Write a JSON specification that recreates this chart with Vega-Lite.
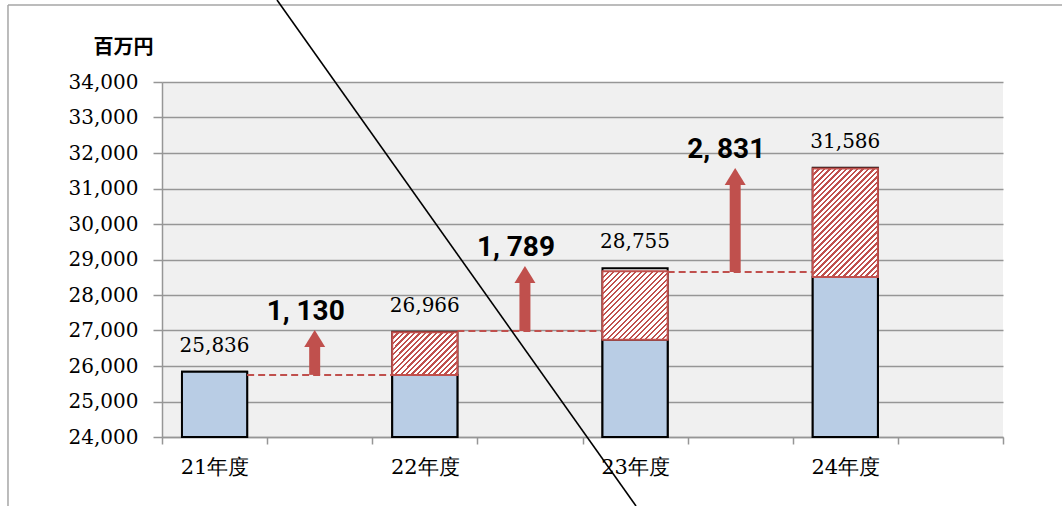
{
  "$schema": "https://vega.github.io/schema/vega-lite/v6.json",
  "width": 841,
  "height": 355,
  "autosize": {"type": "none"},
  "padding": {"left": 162, "top": 82, "right": 59, "bottom": 69},
  "background": "white",
  "config": {"view": {"fill": "#f0f0f0", "stroke": null}, "font": "DejaVu Serif"},
  "datasets": {
    "bars": [
      {"year": "21年度", "blue": 25836, "total": 25836},
      {"year": "22年度", "blue": 25750, "hatch": 26950, "total": 26966},
      {"year": "23年度", "blue": 26740, "hatch": 28670, "total": 28755},
      {"year": "24年度", "blue": 28510, "hatch": 31560, "total": 31586}
    ],
    "steps": [
      {"gap": "g1", "from": "21年度", "to": "22年度", "base": 25750, "tip": 27014, "label": "1, 130"},
      {"gap": "g2", "from": "22年度", "to": "23年度", "base": 26985, "tip": 28820, "label": "1, 789"},
      {"gap": "g3", "from": "23年度", "to": "24年度", "base": 28650, "tip": 31577, "label": "2, 831"}
    ],
    "edges": [
      {"anchor": "21年度", "top": 36169, "bottom": 19000, "strikeTop": 36310, "strikeBottom": 22056}
    ]
  },
  "encoding": {
    "x": {"field": "year", "type": "nominal",
      "scale": {"domain": ["21年度", "g1", "22年度", "g2", "23年度", "g3", "24年度", "g4"], "paddingInner": 0, "paddingOuter": 0},
      "axis": {"title": null, "tickBand": "extent", "labelExpr": "indexof(datum.label + '', 'g') == 0 ? '' : datum.label", "labelAngle": 0,
        "labelFont": "DejaVu Serif", "labelFontSize": 21, "labelColor": "black", "labelPadding": 12,
        "tickSize": 7, "tickColor": "#969696", "tickWidth": 1.5, "domainColor": "#969696", "domainWidth": 1.5, "grid": false}},
    "y": {"field": "total", "type": "quantitative",
      "scale": {"domain": [24000, 34000], "zero": false, "nice": false},
      "axis": {"title": "百万円", "titleAngle": 0, "titleX": -39, "titleY": -35, "titleAlign": "center", "titleBaseline": "middle",
        "titleFont": "Noto Sans CJK JP", "titleFontSize": 20, "titleFontWeight": "bold", "titleColor": "black",
        "values": [24000, 25000, 26000, 27000, 28000, 29000, 30000, 31000, 32000, 33000, 34000],
        "labelExpr": "format(datum.value, ',')",
        "labelFont": "DejaVu Serif", "labelFontSize": 20, "labelColor": "black", "labelPadding": 15,
        "tickSize": 9, "tickColor": "#969696", "tickWidth": 1.5, "domainColor": "#969696", "domainWidth": 1.5,
        "grid": true, "gridColor": "#969696", "gridWidth": 1.5}}
  },
  "layer": [
        {
          "data": {"name": "bars"},
          "mark": {"type": "bar", "width": {"band": 0.62}, "fillOpacity": 0, "stroke": "black", "strokeWidth": 2},
          "encoding": {
            "y2": {"datum": 24000}
          }
        },
        {
          "data": {"name": "bars"},
          "mark": {"type": "bar", "width": {"band": 0.62}, "fill": "#b9cde5", "stroke": "black", "strokeWidth": 2},
          "encoding": {
            "y": {"field": "blue", "type": "quantitative"},
            "y2": {"datum": 24000}
          }
        },
        {
          "data": {"name": "bars"},
          "transform": [{"filter": "datum.year == '22年度'"}],
          "mark": {"type": "bar", "width": {"band": 0.62}, "stroke": "#c0504d", "strokeWidth": 2,
            "fill": {"gradient": "linear", "x1": 0, "y1": 0, "x2": 1.892, "y2": 1.236, "stops": [
{"offset":0,"color":"#c0504d"},{"offset":0.0125,"color":"#c0504d"},{"offset":0.0125,"color":"white"},{"offset":0.03125,"color":"white"},
{"offset":0.03125,"color":"#c0504d"},{"offset":0.04375,"color":"#c0504d"},{"offset":0.04375,"color":"white"},{"offset":0.0625,"color":"white"},
{"offset":0.0625,"color":"#c0504d"},{"offset":0.075,"color":"#c0504d"},{"offset":0.075,"color":"white"},{"offset":0.09375,"color":"white"},
{"offset":0.09375,"color":"#c0504d"},{"offset":0.10625,"color":"#c0504d"},{"offset":0.10625,"color":"white"},{"offset":0.125,"color":"white"},
{"offset":0.125,"color":"#c0504d"},{"offset":0.1375,"color":"#c0504d"},{"offset":0.1375,"color":"white"},{"offset":0.15625,"color":"white"},
{"offset":0.15625,"color":"#c0504d"},{"offset":0.16875,"color":"#c0504d"},{"offset":0.16875,"color":"white"},{"offset":0.1875,"color":"white"},
{"offset":0.1875,"color":"#c0504d"},{"offset":0.2,"color":"#c0504d"},{"offset":0.2,"color":"white"},{"offset":0.21875,"color":"white"},
{"offset":0.21875,"color":"#c0504d"},{"offset":0.23125,"color":"#c0504d"},{"offset":0.23125,"color":"white"},{"offset":0.25,"color":"white"},
{"offset":0.25,"color":"#c0504d"},{"offset":0.2625,"color":"#c0504d"},{"offset":0.2625,"color":"white"},{"offset":0.28125,"color":"white"},
{"offset":0.28125,"color":"#c0504d"},{"offset":0.29375,"color":"#c0504d"},{"offset":0.29375,"color":"white"},{"offset":0.3125,"color":"white"},
{"offset":0.3125,"color":"#c0504d"},{"offset":0.325,"color":"#c0504d"},{"offset":0.325,"color":"white"},{"offset":0.34375,"color":"white"},
{"offset":0.34375,"color":"#c0504d"},{"offset":0.35625,"color":"#c0504d"},{"offset":0.35625,"color":"white"},{"offset":0.375,"color":"white"},
{"offset":0.375,"color":"#c0504d"},{"offset":0.3875,"color":"#c0504d"},{"offset":0.3875,"color":"white"},{"offset":0.40625,"color":"white"},
{"offset":0.40625,"color":"#c0504d"},{"offset":0.41875,"color":"#c0504d"},{"offset":0.41875,"color":"white"},{"offset":0.4375,"color":"white"},
{"offset":0.4375,"color":"#c0504d"},{"offset":0.45,"color":"#c0504d"},{"offset":0.45,"color":"white"},{"offset":0.46875,"color":"white"},
{"offset":0.46875,"color":"#c0504d"},{"offset":0.48125,"color":"#c0504d"},{"offset":0.48125,"color":"white"},{"offset":0.5,"color":"white"},
{"offset":0.5,"color":"#c0504d"},{"offset":0.5125,"color":"#c0504d"},{"offset":0.5125,"color":"white"},{"offset":0.53125,"color":"white"},
{"offset":0.53125,"color":"#c0504d"},{"offset":0.54375,"color":"#c0504d"},{"offset":0.54375,"color":"white"},{"offset":0.5625,"color":"white"},
{"offset":0.5625,"color":"#c0504d"},{"offset":0.575,"color":"#c0504d"},{"offset":0.575,"color":"white"},{"offset":0.59375,"color":"white"},
{"offset":0.59375,"color":"#c0504d"},{"offset":0.60625,"color":"#c0504d"},{"offset":0.60625,"color":"white"},{"offset":0.625,"color":"white"},
{"offset":0.625,"color":"#c0504d"},{"offset":0.6375,"color":"#c0504d"},{"offset":0.6375,"color":"white"},{"offset":0.65625,"color":"white"},
{"offset":0.65625,"color":"#c0504d"},{"offset":0.66875,"color":"#c0504d"},{"offset":0.66875,"color":"white"},{"offset":0.6875,"color":"white"},
{"offset":0.6875,"color":"#c0504d"},{"offset":0.7,"color":"#c0504d"},{"offset":0.7,"color":"white"},{"offset":0.71875,"color":"white"},
{"offset":0.71875,"color":"#c0504d"},{"offset":0.73125,"color":"#c0504d"},{"offset":0.73125,"color":"white"},{"offset":0.75,"color":"white"},
{"offset":0.75,"color":"#c0504d"},{"offset":0.7625,"color":"#c0504d"},{"offset":0.7625,"color":"white"},{"offset":0.78125,"color":"white"},
{"offset":0.78125,"color":"#c0504d"},{"offset":0.79375,"color":"#c0504d"},{"offset":0.79375,"color":"white"},{"offset":0.8125,"color":"white"},
{"offset":0.8125,"color":"#c0504d"},{"offset":0.825,"color":"#c0504d"},{"offset":0.825,"color":"white"},{"offset":0.84375,"color":"white"},
{"offset":0.84375,"color":"#c0504d"},{"offset":0.85625,"color":"#c0504d"},{"offset":0.85625,"color":"white"},{"offset":0.875,"color":"white"},
{"offset":0.875,"color":"#c0504d"},{"offset":0.8875,"color":"#c0504d"},{"offset":0.8875,"color":"white"},{"offset":0.90625,"color":"white"},
{"offset":0.90625,"color":"#c0504d"},{"offset":0.91875,"color":"#c0504d"},{"offset":0.91875,"color":"white"},{"offset":0.9375,"color":"white"},
{"offset":0.9375,"color":"#c0504d"},{"offset":0.95,"color":"#c0504d"},{"offset":0.95,"color":"white"},{"offset":0.96875,"color":"white"},
{"offset":0.96875,"color":"#c0504d"},{"offset":0.98125,"color":"#c0504d"},{"offset":0.98125,"color":"white"},{"offset":1,"color":"white"}
            ]}},
          "encoding": {
            "y": {"field": "blue", "type": "quantitative"},
            "y2": {"field": "hatch"}
          }
        },
        {
          "data": {"name": "bars"},
          "transform": [{"filter": "datum.year == '23年度'"}],
          "mark": {"type": "bar", "width": {"band": 0.62}, "stroke": "#c0504d", "strokeWidth": 2,
            "fill": {"gradient": "linear", "x1": 0, "y1": 0, "x2": 1.283, "y2": 1.348, "stops": [
{"offset":0,"color":"#c0504d"},{"offset":0.0125,"color":"#c0504d"},{"offset":0.0125,"color":"white"},{"offset":0.03125,"color":"white"},
{"offset":0.03125,"color":"#c0504d"},{"offset":0.04375,"color":"#c0504d"},{"offset":0.04375,"color":"white"},{"offset":0.0625,"color":"white"},
{"offset":0.0625,"color":"#c0504d"},{"offset":0.075,"color":"#c0504d"},{"offset":0.075,"color":"white"},{"offset":0.09375,"color":"white"},
{"offset":0.09375,"color":"#c0504d"},{"offset":0.10625,"color":"#c0504d"},{"offset":0.10625,"color":"white"},{"offset":0.125,"color":"white"},
{"offset":0.125,"color":"#c0504d"},{"offset":0.1375,"color":"#c0504d"},{"offset":0.1375,"color":"white"},{"offset":0.15625,"color":"white"},
{"offset":0.15625,"color":"#c0504d"},{"offset":0.16875,"color":"#c0504d"},{"offset":0.16875,"color":"white"},{"offset":0.1875,"color":"white"},
{"offset":0.1875,"color":"#c0504d"},{"offset":0.2,"color":"#c0504d"},{"offset":0.2,"color":"white"},{"offset":0.21875,"color":"white"},
{"offset":0.21875,"color":"#c0504d"},{"offset":0.23125,"color":"#c0504d"},{"offset":0.23125,"color":"white"},{"offset":0.25,"color":"white"},
{"offset":0.25,"color":"#c0504d"},{"offset":0.2625,"color":"#c0504d"},{"offset":0.2625,"color":"white"},{"offset":0.28125,"color":"white"},
{"offset":0.28125,"color":"#c0504d"},{"offset":0.29375,"color":"#c0504d"},{"offset":0.29375,"color":"white"},{"offset":0.3125,"color":"white"},
{"offset":0.3125,"color":"#c0504d"},{"offset":0.325,"color":"#c0504d"},{"offset":0.325,"color":"white"},{"offset":0.34375,"color":"white"},
{"offset":0.34375,"color":"#c0504d"},{"offset":0.35625,"color":"#c0504d"},{"offset":0.35625,"color":"white"},{"offset":0.375,"color":"white"},
{"offset":0.375,"color":"#c0504d"},{"offset":0.3875,"color":"#c0504d"},{"offset":0.3875,"color":"white"},{"offset":0.40625,"color":"white"},
{"offset":0.40625,"color":"#c0504d"},{"offset":0.41875,"color":"#c0504d"},{"offset":0.41875,"color":"white"},{"offset":0.4375,"color":"white"},
{"offset":0.4375,"color":"#c0504d"},{"offset":0.45,"color":"#c0504d"},{"offset":0.45,"color":"white"},{"offset":0.46875,"color":"white"},
{"offset":0.46875,"color":"#c0504d"},{"offset":0.48125,"color":"#c0504d"},{"offset":0.48125,"color":"white"},{"offset":0.5,"color":"white"},
{"offset":0.5,"color":"#c0504d"},{"offset":0.5125,"color":"#c0504d"},{"offset":0.5125,"color":"white"},{"offset":0.53125,"color":"white"},
{"offset":0.53125,"color":"#c0504d"},{"offset":0.54375,"color":"#c0504d"},{"offset":0.54375,"color":"white"},{"offset":0.5625,"color":"white"},
{"offset":0.5625,"color":"#c0504d"},{"offset":0.575,"color":"#c0504d"},{"offset":0.575,"color":"white"},{"offset":0.59375,"color":"white"},
{"offset":0.59375,"color":"#c0504d"},{"offset":0.60625,"color":"#c0504d"},{"offset":0.60625,"color":"white"},{"offset":0.625,"color":"white"},
{"offset":0.625,"color":"#c0504d"},{"offset":0.6375,"color":"#c0504d"},{"offset":0.6375,"color":"white"},{"offset":0.65625,"color":"white"},
{"offset":0.65625,"color":"#c0504d"},{"offset":0.66875,"color":"#c0504d"},{"offset":0.66875,"color":"white"},{"offset":0.6875,"color":"white"},
{"offset":0.6875,"color":"#c0504d"},{"offset":0.7,"color":"#c0504d"},{"offset":0.7,"color":"white"},{"offset":0.71875,"color":"white"},
{"offset":0.71875,"color":"#c0504d"},{"offset":0.73125,"color":"#c0504d"},{"offset":0.73125,"color":"white"},{"offset":0.75,"color":"white"},
{"offset":0.75,"color":"#c0504d"},{"offset":0.7625,"color":"#c0504d"},{"offset":0.7625,"color":"white"},{"offset":0.78125,"color":"white"},
{"offset":0.78125,"color":"#c0504d"},{"offset":0.79375,"color":"#c0504d"},{"offset":0.79375,"color":"white"},{"offset":0.8125,"color":"white"},
{"offset":0.8125,"color":"#c0504d"},{"offset":0.825,"color":"#c0504d"},{"offset":0.825,"color":"white"},{"offset":0.84375,"color":"white"},
{"offset":0.84375,"color":"#c0504d"},{"offset":0.85625,"color":"#c0504d"},{"offset":0.85625,"color":"white"},{"offset":0.875,"color":"white"},
{"offset":0.875,"color":"#c0504d"},{"offset":0.8875,"color":"#c0504d"},{"offset":0.8875,"color":"white"},{"offset":0.90625,"color":"white"},
{"offset":0.90625,"color":"#c0504d"},{"offset":0.91875,"color":"#c0504d"},{"offset":0.91875,"color":"white"},{"offset":0.9375,"color":"white"},
{"offset":0.9375,"color":"#c0504d"},{"offset":0.95,"color":"#c0504d"},{"offset":0.95,"color":"white"},{"offset":0.96875,"color":"white"},
{"offset":0.96875,"color":"#c0504d"},{"offset":0.98125,"color":"#c0504d"},{"offset":0.98125,"color":"white"},{"offset":1,"color":"white"}
            ]}},
          "encoding": {
            "y": {"field": "blue", "type": "quantitative"},
            "y2": {"field": "hatch"}
          }
        },
        {
          "data": {"name": "bars"},
          "transform": [{"filter": "datum.year == '24年度'"}],
          "mark": {"type": "bar", "width": {"band": 0.62}, "stroke": "#c0504d", "strokeWidth": 2,
            "fill": {"gradient": "linear", "x1": 0, "y1": 0, "x2": 0.718, "y2": 1.193, "stops": [
{"offset":0,"color":"#c0504d"},{"offset":0.0125,"color":"#c0504d"},{"offset":0.0125,"color":"white"},{"offset":0.03125,"color":"white"},
{"offset":0.03125,"color":"#c0504d"},{"offset":0.04375,"color":"#c0504d"},{"offset":0.04375,"color":"white"},{"offset":0.0625,"color":"white"},
{"offset":0.0625,"color":"#c0504d"},{"offset":0.075,"color":"#c0504d"},{"offset":0.075,"color":"white"},{"offset":0.09375,"color":"white"},
{"offset":0.09375,"color":"#c0504d"},{"offset":0.10625,"color":"#c0504d"},{"offset":0.10625,"color":"white"},{"offset":0.125,"color":"white"},
{"offset":0.125,"color":"#c0504d"},{"offset":0.1375,"color":"#c0504d"},{"offset":0.1375,"color":"white"},{"offset":0.15625,"color":"white"},
{"offset":0.15625,"color":"#c0504d"},{"offset":0.16875,"color":"#c0504d"},{"offset":0.16875,"color":"white"},{"offset":0.1875,"color":"white"},
{"offset":0.1875,"color":"#c0504d"},{"offset":0.2,"color":"#c0504d"},{"offset":0.2,"color":"white"},{"offset":0.21875,"color":"white"},
{"offset":0.21875,"color":"#c0504d"},{"offset":0.23125,"color":"#c0504d"},{"offset":0.23125,"color":"white"},{"offset":0.25,"color":"white"},
{"offset":0.25,"color":"#c0504d"},{"offset":0.2625,"color":"#c0504d"},{"offset":0.2625,"color":"white"},{"offset":0.28125,"color":"white"},
{"offset":0.28125,"color":"#c0504d"},{"offset":0.29375,"color":"#c0504d"},{"offset":0.29375,"color":"white"},{"offset":0.3125,"color":"white"},
{"offset":0.3125,"color":"#c0504d"},{"offset":0.325,"color":"#c0504d"},{"offset":0.325,"color":"white"},{"offset":0.34375,"color":"white"},
{"offset":0.34375,"color":"#c0504d"},{"offset":0.35625,"color":"#c0504d"},{"offset":0.35625,"color":"white"},{"offset":0.375,"color":"white"},
{"offset":0.375,"color":"#c0504d"},{"offset":0.3875,"color":"#c0504d"},{"offset":0.3875,"color":"white"},{"offset":0.40625,"color":"white"},
{"offset":0.40625,"color":"#c0504d"},{"offset":0.41875,"color":"#c0504d"},{"offset":0.41875,"color":"white"},{"offset":0.4375,"color":"white"},
{"offset":0.4375,"color":"#c0504d"},{"offset":0.45,"color":"#c0504d"},{"offset":0.45,"color":"white"},{"offset":0.46875,"color":"white"},
{"offset":0.46875,"color":"#c0504d"},{"offset":0.48125,"color":"#c0504d"},{"offset":0.48125,"color":"white"},{"offset":0.5,"color":"white"},
{"offset":0.5,"color":"#c0504d"},{"offset":0.5125,"color":"#c0504d"},{"offset":0.5125,"color":"white"},{"offset":0.53125,"color":"white"},
{"offset":0.53125,"color":"#c0504d"},{"offset":0.54375,"color":"#c0504d"},{"offset":0.54375,"color":"white"},{"offset":0.5625,"color":"white"},
{"offset":0.5625,"color":"#c0504d"},{"offset":0.575,"color":"#c0504d"},{"offset":0.575,"color":"white"},{"offset":0.59375,"color":"white"},
{"offset":0.59375,"color":"#c0504d"},{"offset":0.60625,"color":"#c0504d"},{"offset":0.60625,"color":"white"},{"offset":0.625,"color":"white"},
{"offset":0.625,"color":"#c0504d"},{"offset":0.6375,"color":"#c0504d"},{"offset":0.6375,"color":"white"},{"offset":0.65625,"color":"white"},
{"offset":0.65625,"color":"#c0504d"},{"offset":0.66875,"color":"#c0504d"},{"offset":0.66875,"color":"white"},{"offset":0.6875,"color":"white"},
{"offset":0.6875,"color":"#c0504d"},{"offset":0.7,"color":"#c0504d"},{"offset":0.7,"color":"white"},{"offset":0.71875,"color":"white"},
{"offset":0.71875,"color":"#c0504d"},{"offset":0.73125,"color":"#c0504d"},{"offset":0.73125,"color":"white"},{"offset":0.75,"color":"white"},
{"offset":0.75,"color":"#c0504d"},{"offset":0.7625,"color":"#c0504d"},{"offset":0.7625,"color":"white"},{"offset":0.78125,"color":"white"},
{"offset":0.78125,"color":"#c0504d"},{"offset":0.79375,"color":"#c0504d"},{"offset":0.79375,"color":"white"},{"offset":0.8125,"color":"white"},
{"offset":0.8125,"color":"#c0504d"},{"offset":0.825,"color":"#c0504d"},{"offset":0.825,"color":"white"},{"offset":0.84375,"color":"white"},
{"offset":0.84375,"color":"#c0504d"},{"offset":0.85625,"color":"#c0504d"},{"offset":0.85625,"color":"white"},{"offset":0.875,"color":"white"},
{"offset":0.875,"color":"#c0504d"},{"offset":0.8875,"color":"#c0504d"},{"offset":0.8875,"color":"white"},{"offset":0.90625,"color":"white"},
{"offset":0.90625,"color":"#c0504d"},{"offset":0.91875,"color":"#c0504d"},{"offset":0.91875,"color":"white"},{"offset":0.9375,"color":"white"},
{"offset":0.9375,"color":"#c0504d"},{"offset":0.95,"color":"#c0504d"},{"offset":0.95,"color":"white"},{"offset":0.96875,"color":"white"},
{"offset":0.96875,"color":"#c0504d"},{"offset":0.98125,"color":"#c0504d"},{"offset":0.98125,"color":"white"},{"offset":1,"color":"white"}
            ]}},
          "encoding": {
            "y": {"field": "blue", "type": "quantitative"},
            "y2": {"field": "hatch"}
          }
        },
        {
          "data": {"name": "bars"},
          "mark": {"type": "text", "font": "DejaVu Serif", "fontSize": 20, "color": "black", "baseline": "alphabetic", "dy": -20},
          "encoding": {
            "text": {"field": "total", "type": "quantitative", "format": ","}
          }
        },
        {
          "data": {"name": "steps"},
          "mark": {"type": "rule", "color": "#c0504d", "strokeWidth": 2, "strokeDash": [7, 4]},
          "encoding": {
            "x": {"field": "from", "type": "nominal", "bandPosition": 0.81},
            "x2": {"field": "to", "bandPosition": 0.19},
            "y": {"field": "base", "type": "quantitative"}
          }
        },
        {
          "data": {"name": "steps"},
          "mark": {"type": "bar", "width": 11, "color": "#c0504d", "xOffset": -5, "y2Offset": 16},
          "encoding": {
            "x": {"field": "gap", "type": "nominal"},
            "y": {"field": "base", "type": "quantitative"},
            "y2": {"field": "tip"}
          }
        },
        {
          "data": {"name": "steps"},
          "mark": {"type": "point", "shape": "M0,0L1,1.62L-1,1.62Z", "size": 441, "filled": true, "color": "#c0504d", "opacity": 1, "strokeWidth": 0, "xOffset": -5},
          "encoding": {
            "x": {"field": "gap", "type": "nominal"},
            "y": {"field": "tip", "type": "quantitative"}
          }
        },
        {
          "data": {"name": "steps"},
          "mark": {"type": "text", "font": "Roboto", "fontWeight": "bold", "fontSize": 28, "color": "black", "baseline": "alphabetic", "dx": -14, "dy": -10},
          "encoding": {
            "x": {"field": "gap", "type": "nominal"},
            "y": {"field": "tip", "type": "quantitative"},
            "text": {"field": "label", "type": "nominal"}
          }
        },
        {
          "data": {"name": "edges"},
          "mark": {"type": "rule", "color": "#a6a6a6", "strokeWidth": 1.5},
          "encoding": {
            "x": {"field": "anchor", "type": "nominal", "bandPosition": -1.465},
            "y": {"field": "top", "type": "quantitative"},
            "y2": {"field": "bottom"}
          }
        },
        {
          "data": {"name": "edges"},
          "mark": {"type": "rule", "color": "#a6a6a6", "strokeWidth": 1.5},
          "encoding": {
            "x": {"field": "anchor", "type": "nominal", "bandPosition": -1.465},
            "x2": {"field": "anchor", "bandPosition": 9},
            "y": {"field": "top", "type": "quantitative"}
          }
        },
        {
          "data": {"name": "edges"},
          "mark": {"type": "rule", "color": "black", "strokeWidth": 1.6},
          "encoding": {
            "x": {"field": "anchor", "type": "nominal", "bandPosition": 1.094},
            "x2": {"field": "anchor", "bandPosition": 4.509},
            "y": {"field": "strikeTop", "type": "quantitative"},
            "y2": {"field": "strikeBottom"}
          }
        }
  ]
}
